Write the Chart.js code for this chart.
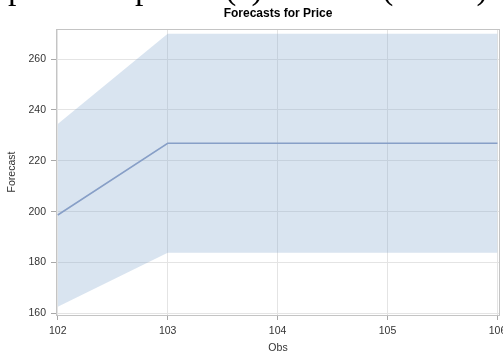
<!DOCTYPE html>
<html>
<head>
<meta charset="utf-8">
<script src="https://cdn.jsdelivr.net/npm/chart.js@4.4.1/dist/chart.umd.min.js"></script>
<style>
  html, body { margin: 0; padding: 0; background: #ffffff; }
  #wrap { position: relative; width: 503px; height: 352px; overflow: hidden; }
  #doc-line {
    position: absolute; left: 0; top: 0; width: 503px; height: 9px; overflow: hidden;
    font-family: "Liberation Serif", "DejaVu Serif", serif; font-size: 34px; line-height: 34px; color: #000;
    white-space: nowrap; z-index: 2;
  }
  #doc-line span { position: absolute; top: -29px; }
  canvas { position: absolute; left: 0; top: 0; }
</style>
</head>
<body>
<div id="wrap">
  <div id="doc-line">
    <span style="left:8px">price</span>
    <span style="left:100px">in part</span>
    <span style="left:225px">(c)</span>
    <span style="left:268px">forecast</span>
    <span style="left:382px">(below)</span>
    <span style="left:494px">s</span>
  </div>
  <canvas id="c" width="503" height="352"></canvas>
</div>
<script>
// Forecast horizon (observation numbers)
const obs = [102, 103, 104, 105, 106];
// Point forecast of Price
const forecast = [198.7, 226.9, 226.9, 226.9, 226.9];
// 95% confidence limits
const lower95 = [162.7, 183.9, 183.9, 183.9, 183.9];
const upper95 = [234.5, 269.9, 269.9, 269.9, 269.9];
// Axis ticks
const xTicks = [102, 103, 104, 105, 106];
const yTicks = [160, 180, 200, 220, 240, 260];

const pts = arr => obs.map((x, i) => ({ x: x, y: arr[i] }));

const FONT = "'Liberation Sans', Arial, sans-serif";

// Frame around the plot area and the centered chart title
const framePlugin = {
  id: 'frame',
  afterDraw(chart) {
    const { ctx, chartArea: a } = chart;
    ctx.save();
    ctx.strokeStyle = '#c4c4c4';
    ctx.lineWidth = 1;
    ctx.strokeRect(a.left + 0.5, a.top + 0.5, a.right - a.left - 1, a.bottom - a.top);
    ctx.fillStyle = '#000';
    ctx.font = 'bold 12px ' + FONT;
    ctx.textAlign = 'center';
    ctx.textBaseline = 'middle';
    ctx.fillText('Forecasts for Price', (a.left + a.right) / 2, 14);
    ctx.restore();
  }
};

new Chart(document.getElementById('c'), {
  type: 'line',
  data: {
    datasets: [
      {
        label: 'Lower 95%',
        data: pts(lower95),
        borderWidth: 0,
        pointRadius: 0,
        fill: false
      },
      {
        label: 'Upper 95%',
        data: pts(upper95),
        borderWidth: 0,
        pointRadius: 0,
        backgroundColor: 'rgba(128,165,205,0.30)',
        fill: '-1'
      },
      {
        label: 'Forecast',
        data: pts(forecast),
        borderColor: '#8a9cc4',
        borderWidth: 1.6,
        pointRadius: 0,
        fill: false
      }
    ]
  },
  options: {
    responsive: false,
    animation: false,
    devicePixelRatio: 1,
    layout: { padding: { top: 29, right: 3, left: 0, bottom: 0 } },
    plugins: {
      legend: { display: false },
      tooltip: { enabled: false },
      title: { display: false }
    },
    scales: {
      x: {
        type: 'linear',
        min: 101.984,
        max: 106.023,
        afterBuildTicks: s => { s.ticks = xTicks.map(v => ({ value: v })); },
        afterFit: s => { s.height = 37; s.paddingLeft = 0; s.paddingRight = 0; },
        grid: { color: '#e4e4e4', lineWidth: 1, tickLength: 5, tickColor: '#a8a8a8' },
        border: { display: false },
        ticks: {
          color: '#333',
          font: { family: FONT, size: 10.5 },
          padding: 5,
          maxRotation: 0,
          callback: v => String(v)
        },
        title: {
          display: true,
          text: 'Obs',
          color: '#333',
          font: { family: FONT, size: 10.5, lineHeight: 1 },
          padding: { top: 0, bottom: -1 }
        }
      },
      y: {
        type: 'linear',
        min: 159.41,
        max: 271.79,
        afterBuildTicks: s => { s.ticks = yTicks.map(v => ({ value: v })); },
        afterFit: s => { s.width = 56; s.paddingTop = 0; s.paddingBottom = 0; },
        grid: { color: '#e4e4e4', lineWidth: 1, tickLength: 5, tickColor: '#a8a8a8' },
        border: { display: false },
        ticks: {
          color: '#333',
          font: { family: FONT, size: 10.5 },
          padding: 5,
          callback: v => String(v)
        },
        title: {
          display: true,
          text: 'Forecast',
          color: '#333',
          font: { family: FONT, size: 10.5, lineHeight: 1.2 },
          padding: { top: 6, bottom: 0 }
        }
      }
    }
  },
  plugins: [framePlugin]
});
</script>
</body>
</html>
